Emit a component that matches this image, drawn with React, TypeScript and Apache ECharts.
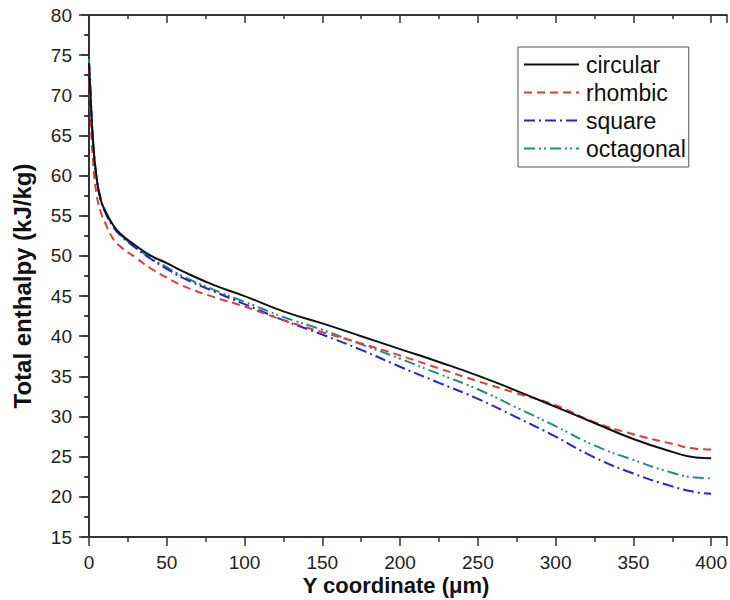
import React, { useEffect, useRef } from "react";
import * as echarts from "echarts";

const xValues = [0, 1, 2.5, 5, 7.5, 10, 15, 20, 30, 40, 50, 60, 80, 100, 125, 150, 175, 200, 225, 250, 275, 300, 325, 350, 375, 390, 400];
const circular = [74, 70, 64.5, 59.5, 57, 55.8, 54, 52.8, 51.3, 50, 49.1, 48.1, 46.4, 45.0, 43.1, 41.6, 40.0, 38.4, 36.8, 35.1, 33.2, 31.2, 29.2, 27.2, 25.6, 24.9, 24.8];
const rhombic = [73.5, 68, 62, 57.5, 55.5, 54.3, 52.3, 51.2, 49.8, 48.4, 47.3, 46.3, 44.9, 43.7, 42.0, 40.5, 39.1, 37.6, 36.0, 34.4, 32.9, 31.4, 29.3, 27.8, 26.6, 26.0, 25.9];
const square = [74, 70, 64.5, 59.5, 57, 55.6, 53.8, 52.6, 51.0, 49.6, 48.4, 47.3, 45.6, 44.0, 42.0, 40.2, 38.3, 36.2, 34.2, 32.2, 29.9, 27.5, 24.9, 22.9, 21.3, 20.6, 20.4];
const octagonal = [74.5, 70.5, 64.8, 59.7, 57.2, 55.7, 53.9, 52.7, 51.1, 49.7, 48.6, 47.5, 45.8, 44.3, 42.4, 40.8, 39.0, 37.2, 35.3, 33.4, 31.1, 28.8, 26.4, 24.6, 23.0, 22.4, 22.3];

const seriesNames = ["circular", "rhombic", "square", "octagonal"];
const seriesValues = [circular, rhombic, square, octagonal];
const seriesColors = ["#111111", "#e23a3a", "#2424d8", "#1f8f86"];
const seriesDash: any[] = ["solid", [8, 5], [11, 4, 2, 4], [11, 4, 2, 3, 2, 4]];

const xTitle = "Y coordinate (\u03bcm)";
const yTitle = "Total enthalpy (kJ/kg)";

const FONT = "'Liberation Sans', Arial, sans-serif";
const AXIS_COLOR = "#333";

export default function App() {
  const ref = useRef<HTMLDivElement>(null);
  useEffect(() => {
    if (!ref.current) return;
    const chart = echarts.init(ref.current, undefined, { renderer: "svg" });
    const axisLine = { show: true, lineStyle: { color: AXIS_COLOR, width: 2 } };
    const baseX = {
      type: "value" as const,
      min: 0,
      max: 410,
      interval: 50,
      splitLine: { show: false },
      axisLine,
      minorTick: { show: true, splitNumber: 2, length: 5, lineStyle: { color: AXIS_COLOR, width: 1.5 } },
    };
    const baseY = {
      type: "value" as const,
      min: 15,
      max: 80,
      interval: 5,
      splitLine: { show: false },
      axisLine,
      minorTick: { show: true, splitNumber: 2, length: 5, lineStyle: { color: AXIS_COLOR, width: 1.5 } },
    };
    chart.setOption({
      animation: false,
      backgroundColor: "#fff",
      textStyle: { fontFamily: FONT },
      grid: { left: 89, top: 15, right: 2, bottom: 63 },
      legend: {
        orient: "vertical",
        left: 518,
        top: 47,
        padding: [6, 3, 7, 5],
        itemWidth: 55,
        itemHeight: 14,
        itemGap: 5,
        borderColor: "#555",
        borderWidth: 1,
        backgroundColor: "#fff",
        itemStyle: { color: "rgba(0,0,0,0)", borderColor: "rgba(0,0,0,0)", borderWidth: 0, opacity: 0 },
        textStyle: { fontSize: 23, lineHeight: 23, color: "#111", fontFamily: FONT, padding: [0, 0, 0, 2] },
        data: seriesNames,
      },
      xAxis: [
        {
          ...baseX,
          position: "bottom",
          axisTick: { show: true, inside: false, length: 9, lineStyle: { color: AXIS_COLOR, width: 1.5 } },
          axisLabel: { show: true, showMaxLabel: false, margin: 16, fontSize: 19, color: "#222", fontFamily: FONT },
        },
        {
          ...baseX,
          position: "top",
          axisTick: { show: true, inside: true, length: 8, lineStyle: { color: AXIS_COLOR, width: 1.5 } },
          minorTick: { show: true, splitNumber: 2, length: 4, lineStyle: { color: AXIS_COLOR, width: 1.5 } },
          axisLabel: { show: false },
        },
      ],
      yAxis: [
        {
          ...baseY,
          position: "left",
          axisTick: { show: true, inside: false, length: 10, lineStyle: { color: AXIS_COLOR, width: 1.5 } },
          axisLabel: { show: true, margin: 17, fontSize: 19, color: "#222", fontFamily: FONT },
        },
        {
          ...baseY,
          position: "right",
          axisTick: { show: true, inside: true, length: 8, lineStyle: { color: AXIS_COLOR, width: 1.5 } },
          minorTick: { show: true, splitNumber: 2, length: 4, lineStyle: { color: AXIS_COLOR, width: 1.5 } },
          axisLabel: { show: false },
        },
      ],
      graphic: [
        {
          type: "text",
          x: 22,
          y: 286,
          rotation: Math.PI / 2,
          style: {
            text: yTitle,
            fontSize: 24,
            fontWeight: "bold",
            fill: "#111",
            fontFamily: FONT,
            textAlign: "center",
            textVerticalAlign: "middle",
          },
        },
        {
          type: "text",
          x: 396,
          y: 585,
          style: {
            text: xTitle,
            fontSize: 22,
            fontWeight: "bold",
            fill: "#111",
            fontFamily: FONT,
            textAlign: "center",
            textVerticalAlign: "middle",
          },
        },
      ],
      series: seriesNames.map((name, i) => ({
        name,
        type: "line",
        xAxisIndex: 0,
        yAxisIndex: 0,
        showSymbol: false,
        symbol: "none",
        smooth: 0.5,
        data: xValues.map((x, j) => [x, seriesValues[i][j]]),
        lineStyle: { color: seriesColors[i], width: 2, type: seriesDash[i] },
        itemStyle: { color: seriesColors[i] },
        z: 10 - i,
      })),
    });
    return () => chart.dispose();
  }, []);
  return (
    <div
      ref={ref}
      style={{ position: "fixed", left: 0, top: 0, width: 730, height: 600 }}
    />
  );
}
